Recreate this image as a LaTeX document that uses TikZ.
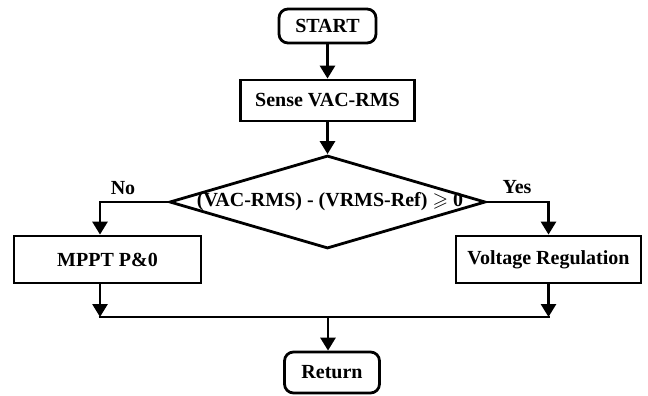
\documentclass[tikz,border=0pt]{standalone}
\usepackage{amssymb}
\usepackage{fontspec}
\setmainfont{Liberation Serif}
\usetikzlibrary{shapes.geometric,arrows.meta}
\begin{document}
\begin{tikzpicture}[x=1pt,y=-1pt,
  every node/.style={font=\bfseries\fontsize{20}{23}\selectfont},
  box/.style={draw,line width=2.8pt,inner sep=0pt},
  term/.style={box,rounded corners=9pt},
  dec/.style={draw,line width=2.8pt,shape=diamond,inner sep=0pt},
  line/.style={line width=2.8pt},
  arr/.style={line,-{Triangle[width=15pt,length=13pt]}},
  lbl/.style={inner sep=0pt}]
\useasboundingbox (0,0) rectangle (648,396);
\node[term,minimum width=97pt,minimum height=34pt] (start) at (327.5,26) {START};
\node[box,minimum width=174pt,minimum height=41pt] (sense) at (327.5,100.5) {Sense VAC-RMS};
\node[dec,minimum width=316pt,minimum height=93pt] (dec) at (327.5,202) {};
\node[lbl] (dtext) at (330,202) {(VAC-RMS) - (VRMS-Ref) $\geqslant$ 0};
\node[box,minimum width=187pt,minimum height=47pt] (mppt) at (107.5,259.5) {MPPT P\&0};
\node[box,minimum width=185pt,minimum height=47pt] (vr) at (548.5,259.5) {Voltage Regulation};
\node[term,minimum width=95pt,minimum height=41pt] (ret) at (332,372.5) {Return};
\coordinate (lx) at (100,317);
\coordinate (rx) at (548.5,317);
\coordinate (mx) at (328,317);
\node[lbl] (no) at (123,188) {No};
\node[lbl] (yes) at (517,187) {Yes};
\draw[arr] (start.south) -- (sense.north);
\draw[arr] (sense.south) -- (dec.north);
\draw[arr] (dec.west) -| (lx |- mppt.north);
\draw[arr] (dec.east) -| (vr.north);
\draw[arr] (lx |- mppt.south) -- (lx);
\draw[arr] (vr.south) -- (rx);
\draw[line] ([xshift=-1.4pt]lx) -- ([xshift=1.4pt]rx);
\draw[arr] (mx) -- (mx |- ret.north);
\end{tikzpicture}
\end{document}
